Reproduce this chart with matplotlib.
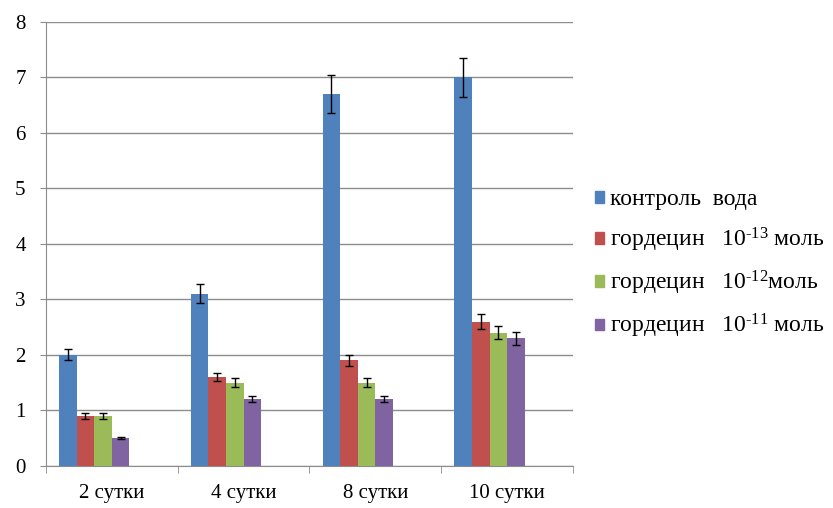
import numpy as np
import matplotlib
matplotlib.use("Agg")
import matplotlib.pyplot as plt
from matplotlib.patches import Patch

plt.rcParams['font.family'] = ['Liberation Serif', 'DejaVu Serif']
plt.rcParams['mathtext.fontset'] = 'custom'
plt.rcParams['mathtext.rm'] = 'Liberation Serif'
plt.rcParams['mathtext.it'] = 'Liberation Serif:italic'

days = ['2 сутки', '4 сутки', '8 сутки', '10 сутки']
labels = ['контроль  вода',
          r'гордецин   10$^{\text{-}13}$ моль',
          r'гордецин   10$^{\text{-}12}$моль',
          r'гордецин   10$^{\text{-}11}$ моль']
colors = ['#4F81BD', '#C0504D', '#9BBB59', '#8064A2']

control = [2.0, 3.1, 6.7, 7.0]
h13 = [0.9, 1.6, 1.9, 2.6]
h12 = [0.9, 1.5, 1.5, 2.4]
h11 = [0.5, 1.2, 1.2, 2.3]

control_err = [0.1, 0.17, 0.34, 0.35]
h13_err = [0.05, 0.08, 0.1, 0.13]
h12_err = [0.05, 0.08, 0.08, 0.12]
h11_err = [0.02, 0.05, 0.05, 0.12]

series = [control, h13, h12, h11]
errors = [control_err, h13_err, h12_err, h11_err]

fig = plt.figure(figsize=(8.33, 5.08), dpi=100)
ax = fig.add_axes([0.055, 0.083, 0.633, 0.874])

x = np.arange(len(days))
# excel layout: 6 slots per category (2 empty), gap 150%
w = 1 / 7.5
for i, (vals, errs) in enumerate(zip(series, errors)):
    pos = x - 3 * w + (i + 0.5) * w
    ax.bar(pos, vals, w, color=colors[i], zorder=3)
    ax.errorbar(pos, vals, yerr=errs, fmt='none', ecolor='black',
                elinewidth=1, capsize=3, capthick=1, zorder=4)

ax.set_xlim(-0.5, 3.5)
ax.set_ylim(0, 8)
ax.set_yticks(range(9))
ax.yaxis.grid(True, color='#8c8c8c', linewidth=1, zorder=0)
ax.set_xticks(x)
ax.set_xticklabels(days, fontsize=15)
ax.tick_params(axis='x', length=0, pad=13)
ax.set_xticks(np.arange(-0.5, 4, 1), minor=True)
ax.tick_params(axis='x', which='minor', length=5, color='#8c8c8c')
ax.tick_params(axis='y', length=4.5, color='#8c8c8c', labelsize=15, pad=10)
for s in ['top', 'right']:
    ax.spines[s].set_visible(False)
for s in ['left', 'bottom']:
    ax.spines[s].set_color('#8c8c8c')

handles = [Patch(color=c) for c in colors]
fig.legend(handles, labels, loc='upper left', bbox_to_anchor=(0.714, 0.627),
           frameon=False, prop={'family': 'Liberation Serif', 'size': 17},
           handlelength=0.4, handleheight=0.4,
           handletextpad=0.25, labelspacing=0.64, borderpad=0, borderaxespad=0)

fig.savefig('out.png', dpi=100)
